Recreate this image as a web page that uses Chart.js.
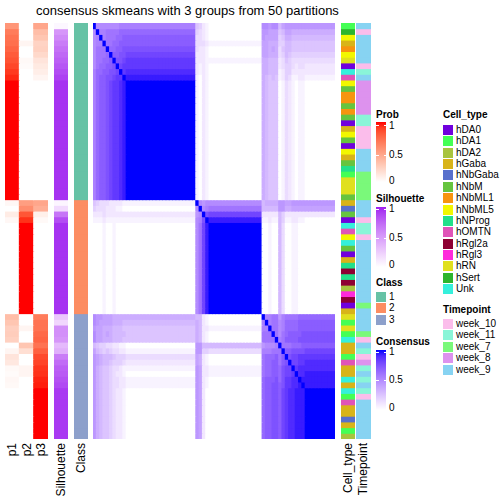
<!DOCTYPE html>
<html><head><meta charset="utf-8">
<script src="https://cdn.jsdelivr.net/npm/chart.js@4.4.0/dist/chart.umd.min.js"></script>
<style>
html,body{margin:0;padding:0;background:#fff;}
body{width:504px;height:504px;position:relative;overflow:hidden;font-family:"Liberation Sans",Arial,Helvetica,sans-serif;color:#000;}
canvas{position:absolute;display:block;}
.t{position:absolute;white-space:nowrap;}
.rot{position:absolute;white-space:nowrap;transform-origin:0 0;transform:rotate(-90deg);text-align:right;width:100px;font-size:12px;line-height:12px;}
</style></head><body>
<script>
// ---------------- DATA ----------------
const title = "consensus skmeans with 3 groups from 50 partitions";
const probCols = ["p1","p2","p3"];

// membership probabilities per sample (73 samples, heatmap row order)
const p1 = [0.54,0.66,0.70,0.72,0.76,0.80,0.83,0.87,0.91,0.95,
  1,1,1,1,1,1,1, 1,1,1,1,1,1,1, 1,1,1,1,1,1,1,
  0.04,0,0.10,0.04,
  0,0,0,0,0,0,0,0, 0,0,0,0,0,0,0,0,
  0.34,0.30,0.25,0.26,0.24,0,0.05,0.14,0.12,0.03,0.02,0.04,0.03,
  0,0,0,0,0,0,0,0,0];
const p2 = [0,0,0,0.05,0,0,0.03,0.02,0,0,
  0,0,0,0,0,0,0, 0,0,0,0,0,0,0, 0,0,0,0,0,0,0,
  0.50,0.58,0.82,0.93,
  1,1,1,1,1,1,1,1, 1,1,1,1,1,1,1,1,
  0,0,0.05,0,0,0.30,0.17,0,0,0.05,0.05,0,0,
  0,0,0,0,0,0,0,0,0];
const p3 = [0.46,0.34,0.30,0.23,0.24,0.20,0.14,0.11,0.09,0.05,
  0,0,0,0,0,0,0, 0,0,0,0,0,0,0, 0,0,0,0,0,0,0,
  0.46,0.42,0.08,0.03,
  0,0,0,0,0,0,0,0, 0,0,0,0,0,0,0,0,
  0.66,0.70,0.70,0.74,0.76,0.70,0.78,0.86,0.88,0.92,0.93,0.96,0.97,
  1,1,1,1,1,1,1,1,1];
const silhouette = [0.04,0.52,0.58,0.65,0.70,0.74,0.78,0.82,0.86,0.90,
  0.95,0.95,0.95,0.95,0.95,0.95,0.95, 0.95,0.95,0.95,0.95,0.95,0.95,0.95, 0.95,0.95,0.95,0.95,0.95,0.95,0.95,
  0.05,0.18,0.68,0.85,
  0.95,0.95,0.95,0.95,0.95,0.95,0.95,0.95, 0.95,0.95,0.95,0.95,0.95,0.95,0.95,0.95,
  0.28,0.20,0.55,0.55,0.52,0.35,0.40,0.65,0.72,0.78,0.80,0.84,0.87,
  0.93,0.93,0.93,0.93,0.93,0.93,0.93,0.93,0.93];
const sampleClass = [1,1,1,1,1,1,1,1,1,1, 1,1,1,1,1,1,1,1,1,1, 1,1,1,1,1,1,1,1,1,1, 1,
  2,2,2,2,2,2,2,2,2,2, 2,2,2,2,2,2,2,2,2,2,
  3,3,3,3,3,3,3,3,3,3, 3,3,3,3,3,3,3,3,3,3, 3,3];
const cellType = [
  "hDA1","hSert","hNbML5","hGaba","hNbML1","hNbML5","hRN","hDA0","Unk","hOMTN",
  "hNbML5","hNbM","hNbML1","hNbML1","hNbM","hNbML1","hNbM","hDA0","hGaba","hNbML5",
  "hNbM","hDA0","hNbML5","hGaba","hNbM","hNProg","hDA1","hRN","hRN","hRN",
  "hNbM","hGaba","hNbGaba","hNbM","hDA0","Unk","hOMTN","hNbML5","Unk","hNbM",
  "hDA0","hGaba","hNProg","hRgl2a","hNProg","hRgl2a","hDA2","hRgl3","hRgl2a","hDA0",
  "hGaba","hRN","hDA1","hRN","hDA1","Unk","hGaba","hGaba","hDA1","hOMTN",
  "hGaba","hGaba","Unk","hGaba","Unk","hDA1","hOMTN","hGaba","hGaba","hNbGaba",
  "hGaba","hDA1","hDA2"];
const timepoint = [
  "week_9","week_10","week_9","week_9","week_9","week_9","week_9","week_10","week_11","week_9",
  "week_8","week_8","week_8","week_8","week_8","week_8","week_11","week_11","week_10","week_10",
  "week_10","week_10","week_9","week_9","week_9","week_9","week_7","week_7","week_7","week_7",
  "week_7","week_9","week_9","week_9","week_10","week_11","week_11","week_10","week_9","week_9",
  "week_9","week_9","week_9","week_9","week_9","week_9","week_9","week_9","week_9","week_7",
  "week_9","week_9","week_9","week_9","week_7","week_10","week_9","week_11","week_10","week_8",
  "week_11","week_9","week_11","week_9","week_11","week_10","week_9","week_9","week_9","week_9",
  "week_9","week_9","week_9"];

// consensus matrix: samples grouped into units (identical samples share a unit)
const unitSizes = [1,1,1,1,1,1,1,1,1,1, 21, 1,1,1,1, 16, 1,1,1,1,1,1,1,1,1,1,1,1,1, 9];
// levels: "0".."k" -> 0, 0.05, ..., 1
const LEVELS = "0123456789abcdefghijk";
const consensusUnits = [
  "kaaaaaaabb|b|5421|0|aa9aa68999999|9",
  "akbbccccdd|d|4321|0|9988856887777|7",
  "abkbcccdde|e|3321|0|9888845776666|6",
  "abbkccddee|e|3332|1|8877744665555|5",
  "accckddeef|f|3221|0|8878735665555|5",
  "acccdkeeff|g|2221|0|8877734654444|4",
  "accddekffg|h|2221|1|7766623543333|3",
  "acddeefkgh|h|2121|0|7766623443233|2",
  "bddeeffgkh|i|2121|0|7766612442222|2",
  "bdeeffghhk|j|1021|0|7656512431122|1",
  "bdeefghhij|k|1021|0|7655501321011|0",
  "5433322221|1|ka9a|a|6777799889999|9",
  "4333222110|0|akab|c|6666699778888|8",
  "2223222222|2|9akf|g|2222264222222|2",
  "1112111111|1|abfk|j|1121164112211|0",
  "0001001000|0|acgj|k|0010063001100|0",
  "a998887777|7|6621|0|kbbcc9bccccdd|d",
  "a988887776|6|7621|0|bkbccabddddee|e",
  "9887776665|5|7622|1|bbkccabddddee|e",
  "a887876666|5|7621|0|ccckcacdeeeef|f",
  "a887776665|5|7621|0|cccckbceeeeff|f",
  "6544332211|0|9966|6|9aaabkcccddde|e",
  "8654543322|1|9944|3|bbbccckeeffff|g",
  "9876665444|3|8721|0|cdddecekfgghh|h",
  "9876654443|2|8721|0|cddeecefkgghh|i",
  "9765543321|1|9822|1|cddeedfggkhii|i",
  "9765543221|0|9822|1|cddeedfgghkii|j",
  "9765543322|1|9821|0|deeefdfhhiikj|j",
  "9765543322|1|9821|0|deeffefhhiijk|j",
  "9765543221|0|9820|0|deeffeghiijjj|k"
];

const cellTypeNames = ["hDA0","hDA1","hDA2","hGaba","hNbGaba","hNbM","hNbML1","hNbML5","hNProg","hOMTN","hRgl2a","hRgl3","hRN","hSert","Unk"];
const timepointNames = ["week_10","week_11","week_7","week_8","week_9"];
const classNames = ["1","2","3"];
const legendTicks = ["1","0.5","0"];

// ---------------- STYLES ----------------
const cellTypeColors = {hDA0:"#7000DD",hDA1:"#44FF55",hDA2:"#A8C43F",hGaba:"#D8B419",hNbGaba:"#5870CC",hNbM:"#66C43F",
  hNbML1:"#F7940F",hNbML5:"#F2F700",hNProg:"#22E08A",hOMTN:"#E054B8",hRgl2a:"#8E0033",hRgl3:"#FF2ADB",hRN:"#E0E01E",hSert:"#2DB52D",Unk:"#35F0DC"};
const timepointColors = {week_10:"#FBBDEB",week_11:"#8AF5D8",week_7:"#7AF97A",week_8:"#DD92EE",week_9:"#87D3F2"};
const classColors = {1:"#66C2A5",2:"#FC8D62",3:"#8DA0CB"};

function hexToRgb(h){h=h.replace('#','');return [parseInt(h.slice(0,2),16),parseInt(h.slice(2,4),16),parseInt(h.slice(4,6),16)];}
function rgb2lab(c){
  const lin=v=>{v/=255;return v<=0.04045?v/12.92:Math.pow((v+0.055)/1.055,2.4);};
  const R=lin(c[0]),G=lin(c[1]),B=lin(c[2]);
  const X=(0.4124564*R+0.3575761*G+0.1804375*B)/0.95047;
  const Y=(0.2126729*R+0.7151522*G+0.0721750*B);
  const Z=(0.0193339*R+0.1191920*G+0.9503041*B)/1.08883;
  const f=t=>t>0.008856?Math.cbrt(t):7.787*t+16/116;
  const fx=f(X),fy=f(Y),fz=f(Z);
  return [116*fy-16,500*(fx-fy),200*(fy-fz)];
}
function lab2rgb(l){
  const fy=(l[0]+16)/116, fx=fy+l[1]/500, fz=fy-l[2]/200;
  const fi=t=>{const t3=t*t*t;return t3>0.008856?t3:(t-16/116)/7.787;};
  const X=fi(fx)*0.95047,Y=fi(fy),Z=fi(fz)*1.08883;
  const R=3.2404542*X-1.5371385*Y-0.4985314*Z;
  const G=-0.9692660*X+1.8760108*Y+0.0415560*Z;
  const B=0.0556434*X-0.2040259*Y+1.0572252*Z;
  const g=c=>{c=c<=0.0031308?12.92*c:1.055*Math.pow(c,1/2.4)-0.055;return Math.round(Math.min(1,Math.max(0,c))*255);};
  return `rgb(${g(R)},${g(G)},${g(B)})`;
}
function ramp(lo,hi){const A=rgb2lab(hexToRgb(lo)),B=rgb2lab(hexToRgb(hi));
  return v=>{v=Math.max(0,Math.min(1,v));return lab2rgb([A[0]+(B[0]-A[0])*v,A[1]+(B[1]-A[1])*v,A[2]+(B[2]-A[2])*v]);};}
const probColor = ramp('#FFFFFF','#FF0000');
const silColor = ramp('#FFFFFF','#A020F0');
const consColor = ramp('#FFFFFF','#0000FF');

// ---------------- BUILD ----------------
const N = p1.length;
const unitOf = [];
unitSizes.forEach((s,u)=>{for(let k=0;k<s;k++) unitOf.push(u);});
const unitRows = consensusUnits.map(s=>s.replace(/\|/g,''));
function consensus(i,j){return LEVELS.indexOf(unitRows[unitOf[i]][unitOf[j]])/20;}
const sampleIds = unitOf.map((u,i)=>'s'+(i+1));

const ROW_TOP = 23, ROW_H = 416;

function heatmap(left, width, colLabels, colorAt){
  const cv = document.createElement('canvas');
  cv.width = width; cv.height = ROW_H;
  cv.style.left = left+'px'; cv.style.top = ROW_TOP+'px';
  cv.style.width = width+'px'; cv.style.height = ROW_H+'px';
  document.body.appendChild(cv);
  const datasets = [];
  for (let i=0;i<N;i++){
    datasets.push({
      label: sampleIds[i],
      data: colLabels.map(()=>[i, i+1]),
      backgroundColor: colLabels.map((_,j)=>colorAt(i,j)),
      grouped:false, barPercentage:1, categoryPercentage:1,
      borderWidth:0, inflateAmount:0.5
    });
  }
  new Chart(cv, {type:'bar', data:{labels:colLabels, datasets},
    options:{responsive:false, animation:false, devicePixelRatio:1, events:[],
      layout:{padding:0},
      plugins:{legend:{display:false}, tooltip:{enabled:false}, title:{display:false}},
      scales:{x:{display:false}, y:{display:false, min:0, max:N, reverse:true}}}});
}

const probs = [p1,p2,p3];
heatmap(5, 43, probCols, (i,j)=>probColor(probs[j][i]));
heatmap(54, 14, ["Silhouette"], (i)=>silColor(silhouette[i]));
heatmap(74, 14, ["Class"], (i)=>classColors[sampleClass[i]]);
heatmap(93, 242, sampleIds, (i,j)=>consColor(consensus(i,j)));
heatmap(341, 14, ["Cell_type"], (i)=>cellTypeColors[cellType[i]]);
heatmap(356, 15, ["Timepoint"], (i)=>timepointColors[timepoint[i]]);

// ---------------- TEXT ----------------
function txt(s,x,yc,size,bold){
  const d=document.createElement('div'); d.className='t'; d.textContent=s;
  d.style.left=x+'px'; d.style.top=(yc-size*0.5)+'px';
  d.style.fontSize=size+'px'; d.style.lineHeight=size+'px';
  if(bold) d.style.fontWeight='bold';
  document.body.appendChild(d);
}
const tdiv=document.createElement('div'); tdiv.className='t';
tdiv.textContent=title;
tdiv.style.cssText='position:absolute;left:0;width:375px;text-align:center;top:3px;font-size:13px;white-space:nowrap;';
document.body.appendChild(tdiv);

[["p1",12.5],["p2",27],["p3",41],["Silhouette",61],["Class",81],["Cell_type",348],["Timepoint",363.5]].forEach(([s,c])=>{
  const d=document.createElement('div'); d.className='rot'; d.textContent=s;
  d.style.left=(c-6.2)+'px'; d.style.top=(443+100)+'px';
  document.body.appendChild(d);
});

function box(x,y,w,h,bg){const d=document.createElement('div');d.style.cssText=`position:absolute;left:${x}px;top:${y}px;width:${w}px;height:${h}px;background:${bg};`;document.body.appendChild(d);}
function gradLegend(name, titleY, barTop, labelYs, fn){
  txt(name,376,titleY,10,true);
  const stops=[];for(let k=0;k<=10;k++){stops.push(fn(1-k/10)+' '+(k*10)+'%');}
  box(376,barTop,10,60,'linear-gradient(to bottom,'+stops.join(',')+')');
  legendTicks.forEach((s,k)=>{
    txt(s,389,labelYs[k],10,false);
    if(k<2){box(376,labelYs[k]-0.5,2.5,1,'#fff');box(383.5,labelYs[k]-0.5,2.5,1,'#fff');}
  });
}
gradLegend("Prob",115,122,[125.5,155,181],probColor);
gradLegend("Silhouette",199,207,[209,238,265],silColor);
gradLegend("Consensus",342,350,[352,380,408],consColor);

txt("Class",376,283,10,true);
classNames.forEach((s,k)=>{const y=292+11.4*k;box(376,y,10,10,classColors[s]);txt(s,389,y+5,10,false);});

txt("Cell_type",443,115,10,true);
cellTypeNames.forEach((s,k)=>{const y=125+11.36*k;box(443,y,10,10,cellTypeColors[s]);txt(s,456,y+5,10,false);});
txt("Timepoint",443,310,10,true);
timepointNames.forEach((s,k)=>{const y=319+11.4*k;box(443,y,10,10,timepointColors[s]);txt(s,456,y+5,10,false);});
</script>
</body></html>
